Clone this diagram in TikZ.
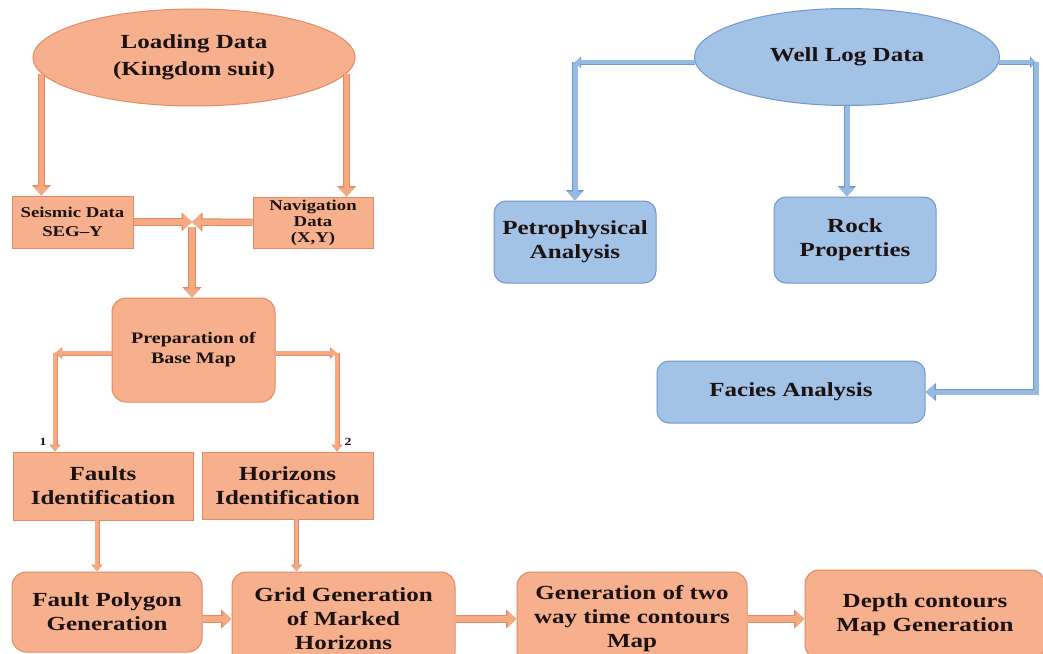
\documentclass[tikz,border=0pt]{standalone}
\usepackage{fontspec}
\setmainfont{Liberation Serif}[FakeStretch=1.25]
\usetikzlibrary{arrows.meta,shapes.geometric,calc}
\definecolor{ofill}{RGB}{246,176,142}
\definecolor{oline}{RGB}{226,138,98}
\definecolor{oarrc}{RGB}{245,170,132}
\definecolor{bfill}{RGB}{162,194,230}
\definecolor{bline}{RGB}{112,152,204}
\definecolor{barrc}{RGB}{150,186,226}
\definecolor{txt}{RGB}{28,18,18}
\begin{document}
\begin{tikzpicture}[x=1pt,y=-1pt,
 base/.style={draw, line width=1pt, align=center, font=\bfseries\fontsize{20}{24}\selectfont, text=txt, inner sep=0pt},
 obox/.style={base, rectangle, fill=ofill, draw=oline},
 orbox/.style={obox, rounded corners=14pt},
 oell/.style={base, ellipse, fill=ofill, draw=oline},
 bbox/.style={base, rectangle, rounded corners=12pt, fill=bfill, draw=bline},
 bell/.style={base, ellipse, fill=bfill, draw=bline},
 oarr/.style={draw=oarrc, line width=5.5pt, -{Triangle[length=9pt,width=16pt]},
   preaction={draw=oline, line width=7.5pt, -{Triangle[length=10.5pt,width=18.5pt]}}},
 othin/.style={draw=oarrc, line width=3.5pt, -{Triangle[length=6pt,width=9pt]},
   preaction={draw=oline, line width=5pt, -{Triangle[length=7pt,width=11pt]}}},
 barr/.style={draw=barrc, line width=5pt, line join=miter, -{Triangle[length=9pt,width=15pt]},
   preaction={draw=bline, line width=6.5pt, -{Triangle[length=10.5pt,width=17.5pt]}}},
 bthin/.style={draw=barrc, line width=4pt, -{Triangle[length=5pt,width=9pt]},
   preaction={draw=bline, line width=5.5pt, -{Triangle[length=6pt,width=11pt]}}},
 numlbl/.style={font=\bfseries\fontsize{11}{11}\selectfont, text=txt, inner sep=0pt}
]
\useasboundingbox[fill=white] (0,0) rectangle (1043,653);

% ---- orange part ----
\node[oell, minimum width=322pt, minimum height=97pt, font=\bfseries\fontsize{20}{27}\selectfont] (load) at (194,57.5) {Loading Data\\(Kingdom suit)};
\node[obox, minimum width=121pt, minimum height=52pt, font=\bfseries\fontsize{15}{19}\selectfont] (seis) at (72.5,222) {Seismic Data\\SEG--Y};
\node[obox, minimum width=120pt, minimum height=51pt, font=\bfseries\fontsize{15}{16}\selectfont] (nav) at (313,222.5) {Navigation\\Data\\(X,Y)};
\node[orbox, minimum width=163pt, minimum height=104pt, font=\bfseries\fontsize{16}{20}\selectfont] (prep) at (193.5,350) {Preparation of\\Base Map};
\node[obox, minimum width=180pt, minimum height=68pt] (faults) at (103,486) {Faults\\Identification};
\node[obox, minimum width=171pt, minimum height=67pt] (horiz) at (287.5,485.5) {Horizons\\Identification};
\node[numlbl] (l1) at (43,442) {1};
\node[numlbl] (l2) at (348,442) {2};
\node[orbox, minimum width=190pt, minimum height=80pt] (fpoly) at (107,612) {Fault Polygon\\Generation};
\node[orbox, minimum width=223pt, minimum height=94pt] (grid) at (343.5,619) {Grid Generation\\of Marked\\Horizons};
\node[orbox, minimum width=230pt, minimum height=94pt] (gen) at (632,619) {Generation of two\\way time contours\\Map};
\node[orbox, minimum width=240pt, minimum height=89pt] (depth) at (925,614.5) {Depth contours\\Map Generation};

\draw[oarr] (load.186) -- (load.186 |- seis.north);
\draw[oarr] (load.354) -- (load.354 |- nav.north);
\coordinate (meet) at (192,222);
\coordinate (meetb) at (192,227);
\draw[oarr] (seis.east) -- (meet);
\draw[oarr] (nav.west) -- (meet);
\draw[oarr] (meetb) -- (meetb |- prep.north);
\coordinate (lc) at (55,353);
\coordinate (rc) at (337,353);
\draw[othin] (prep.west |- lc) -- (lc);
\draw[othin] (lc) -- (lc |- faults.north);
\draw[othin] (prep.east |- rc) -- (rc);
\draw[othin] (rc) -- (rc |- horiz.north);
\coordinate (fd) at (97,520);
\coordinate (hd) at (296.5,519);
\draw[othin] (fd) -- (fd |- fpoly.north);
\draw[othin] (hd) -- (hd |- grid.north);
\draw[oarr] (fpoly.east |- grid) -- (grid.west);
\draw[oarr] (grid.east) -- (gen.west);
\draw[oarr] (gen.east) -- (gen.east -| depth.west);

% ---- blue part ----
\node[bell, minimum width=305pt, minimum height=97pt] (well) at (847,57) {Well Log Data};
\node[bbox, minimum width=162pt, minimum height=82pt] (petro) at (575,242) {Petrophysical\\Analysis};
\node[bbox, minimum width=162pt, minimum height=86pt] (rock) at (855,240) {Rock\\Properties};
\node[bbox, minimum width=268pt, minimum height=62pt] (facies) at (791,392) {Facies Analysis};

\coordinate (pc) at (petro.north |- well.182);
\draw[bthin] (well.182) -- (pc);
\draw[barr] (pc) -- (petro.north);
\draw[barr] (well.south) -- (well.south |- rock.north);
\coordinate (rcx) at (1036,0);
\coordinate (rc1) at (rcx |- well.358);
\draw[bthin] (well.358) -- (rc1);
\draw[barr] (rc1) |- (facies.east);
\end{tikzpicture}
\end{document}
